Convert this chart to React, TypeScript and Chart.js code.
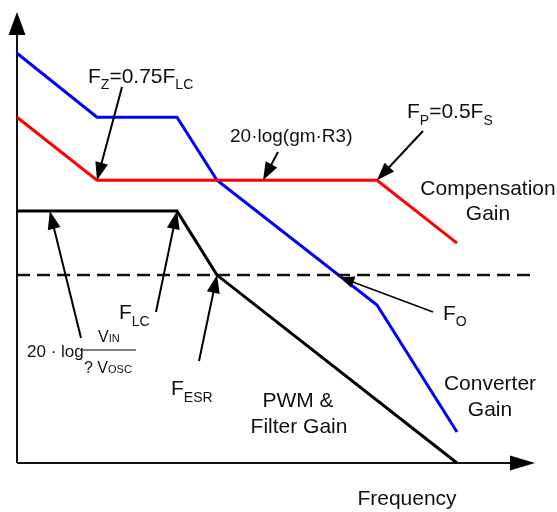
import React, { useEffect, useRef } from "react";
import { Chart, registerables } from "chart.js";
Chart.register(...registerables);

// Frequency positions (decades, log scale drawn linearly) and gains (dB-like units)
const convX = [0, 1, 2, 2.5, 4.5, 5.5];
const convY = [128.1, 108.1, 108.1, 88.4, 49.4, 9.7];
const compX = [0, 1, 4.5, 5.5];
const compY = [108.1, 88.4, 88.4, 68.75];
const pwmX = [0, 2, 2.5, 5.5];
const pwmY = [78.75, 78.75, 58.75, 0];
const zeroX = [0, 6.5];
const zeroY = [58.75, 58.75];

const FONT = '"Liberation Sans", Arial, sans-serif';

const pts = (xs: number[], ys: number[]) => xs.map((x, i) => ({ x, y: ys[i] }));

function arrow(ctx: CanvasRenderingContext2D, x1: number, y1: number, x2: number, y2: number, lw = 2, hl = 18, hw = 6.5) {
  const a = Math.atan2(y2 - y1, x2 - x1);
  const bx = x2 - hl * Math.cos(a);
  const by = y2 - hl * Math.sin(a);
  ctx.save();
  ctx.strokeStyle = "#000";
  ctx.fillStyle = "#000";
  ctx.lineWidth = lw;
  ctx.beginPath();
  ctx.moveTo(x1, y1);
  ctx.lineTo(bx + 2 * Math.cos(a), by + 2 * Math.sin(a));
  ctx.stroke();
  ctx.beginPath();
  ctx.moveTo(x2, y2);
  ctx.lineTo(bx + hw * Math.sin(a), by - hw * Math.cos(a));
  ctx.lineTo(bx - hw * Math.sin(a), by + hw * Math.cos(a));
  ctx.closePath();
  ctx.fill();
  ctx.restore();
}

type Part = [string, number, number];
function rich(ctx: CanvasRenderingContext2D, x: number, y: number, parts: Part[], align: "left" | "center" = "left") {
  ctx.save();
  ctx.fillStyle = "#111";
  ctx.textBaseline = "alphabetic";
  ctx.textAlign = "left";
  let total = 0;
  for (const [t, s] of parts) {
    ctx.font = `${s}px ${FONT}`;
    total += ctx.measureText(t).width;
  }
  let cx = align === "center" ? x - total / 2 : x;
  for (const [t, s, dy] of parts) {
    ctx.font = `${s}px ${FONT}`;
    ctx.fillText(t, cx, y + dy);
    cx += ctx.measureText(t).width;
  }
  ctx.restore();
}

const annotPlugin = {
  id: "annot",
  beforeDatasetsDraw(chart: any) {
    const ctx = chart.ctx as CanvasRenderingContext2D;
    const xs = chart.scales.x, ys = chart.scales.y;
    const ox = xs.getPixelForValue(0), oy = ys.getPixelForValue(0);
    ctx.save();
    ctx.strokeStyle = "#111";
    ctx.fillStyle = "#000";
    ctx.lineWidth = 2;
    ctx.beginPath();
    ctx.moveTo(ox, oy);
    ctx.lineTo(ox, 32);
    ctx.moveTo(ox, oy);
    ctx.lineTo(515, oy);
    ctx.stroke();
    ctx.beginPath();
    ctx.moveTo(ox, 12);
    ctx.lineTo(ox - 8.5, 35);
    ctx.lineTo(ox + 8.5, 35);
    ctx.closePath();
    ctx.fill();
    ctx.beginPath();
    ctx.moveTo(535, oy);
    ctx.lineTo(510, oy - 7.5);
    ctx.lineTo(510, oy + 7.5);
    ctx.closePath();
    ctx.fill();
    ctx.restore();
  },
  afterDatasetsDraw(chart: any) {
    const ctx = chart.ctx as CanvasRenderingContext2D;
    const xs = chart.scales.x, ys = chart.scales.y;
    const P = (x: number, y: number) => [xs.getPixelForValue(x), ys.getPixelForValue(y)];

    let t = P(1, 88.4);
    arrow(ctx, 122, 87, t[0], t[1]);
    t = P(3.075, 88.4);
    arrow(ctx, 278, 152, t[0], t[1]);
    t = P(4.5, 88.4);
    arrow(ctx, 423, 131, t[0], t[1]);
    t = P(0.41, 78.75);
    arrow(ctx, 81, 338, t[0], t[1]);
    t = P(2, 78.75);
    arrow(ctx, 156, 312, t[0], t[1]);
    t = P(2.5, 58.75);
    arrow(ctx, 199, 361, t[0], t[1]);
    t = P(4.04, 58.1);
    arrow(ctx, 433, 312, t[0], t[1], 1.6, 14, 6);

    rich(ctx, 88, 83, [["F", 21, 0], ["Z", 14, 6], ["=0.75F", 21, 0], ["LC", 14, 6]]);
    rich(ctx, 230, 142, [["20·log(gm·R3)", 19, 0]]);
    rich(ctx, 407, 118, [["F", 21, 0], ["P", 14, 7], ["=0.5F", 21, 0], ["S", 14, 7]]);
    rich(ctx, 488, 195, [["Compensation", 21, 0]], "center");
    rich(ctx, 488, 220, [["Gain", 21, 0]], "center");
    rich(ctx, 119, 319, [["F", 21, 0], ["LC", 14, 7]]);
    rich(ctx, 171, 395, [["F", 21, 0], ["ESR", 14, 7]]);
    rich(ctx, 443, 320, [["F", 21, 0], ["O", 14, 6]]);
    rich(ctx, 298, 407, [["PWM &", 21, 0]], "center");
    rich(ctx, 299, 433, [["Filter Gain", 21, 0]], "center");
    rich(ctx, 490, 390, [["Converter", 21, 0]], "center");
    rich(ctx, 490, 416, [["Gain", 21, 0]], "center");
    rich(ctx, 407, 505, [["Frequency", 21, 0]], "center");

    rich(ctx, 27, 357, [["20 · log", 17, 0]]);
    ctx.save();
    ctx.strokeStyle = "#555";
    ctx.lineWidth = 1.6;
    ctx.beginPath();
    ctx.moveTo(82, 350);
    ctx.lineTo(136, 350);
    ctx.stroke();
    ctx.restore();
    rich(ctx, 98, 342, [["V", 16, 0], ["IN", 11, 0]]);
    rich(ctx, 84, 373, [["? V", 16, 0], ["OSC", 11, 0]]);
  },
};

export default function App() {
  const ref = useRef<HTMLCanvasElement>(null);
  useEffect(() => {
    if (!ref.current) return;
    const chart = new Chart(ref.current, {
      type: "line",
      data: {
        datasets: [
          { data: pts(zeroX, zeroY), borderColor: "#111", borderWidth: 2.5, borderDash: [13, 7], pointRadius: 0, clip: false } as any,
          { data: pts(pwmX, pwmY), borderColor: "#000", borderWidth: 3, pointRadius: 0, clip: false } as any,
          { data: pts(compX, compY), borderColor: "#ff0000", borderWidth: 3, pointRadius: 0, clip: false } as any,
          { data: pts(convX, convY), borderColor: "#0000ff", borderWidth: 3, pointRadius: 0, clip: false } as any,
        ],
      },
      options: {
        responsive: false,
        animation: false,
        layout: { padding: { left: 17, right: 20, top: 12, bottom: 49 } },
        plugins: { legend: { display: false }, tooltip: { enabled: false } },
        scales: {
          x: { type: "linear", min: 0, max: 6.5, display: false },
          y: { type: "linear", min: 0, max: 141, display: false },
        },
      },
      plugins: [annotPlugin],
    });
    return () => chart.destroy();
  }, []);
  return (
    <div style={{ position: "absolute", left: 0, top: 0, width: 557, height: 512, background: "#fff" }}>
      <canvas ref={ref} width={557} height={512} />
    </div>
  );
}
